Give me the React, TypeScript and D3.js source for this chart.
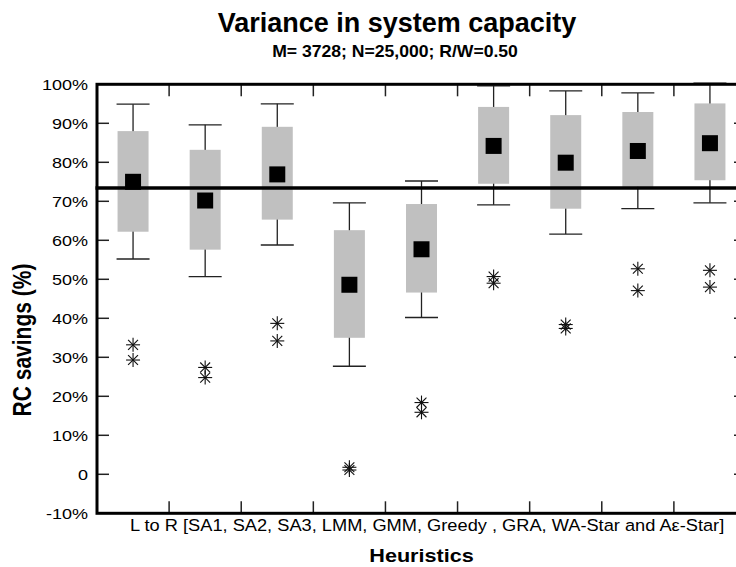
import React from "react";
import * as d3 from "d3";

// Heuristics, left to right
const categories = ["SA1", "SA2", "SA3", "LMM", "GMM", "Greedy", "GRA", "WA-Star", "Aε-Star"];

// RC savings (%) per heuristic
const whiskerHigh = [94.9, 89.6, 95.0, 69.6, 75.2, 99.6, 98.3, 97.8, 100.3];
const quartile3 = [88.0, 83.2, 89.1, 62.6, 69.3, 94.2, 92.1, 92.9, 95.1];
const centerValue = [75.0, 70.2, 76.9, 48.6, 57.7, 84.2, 79.9, 82.9, 84.9];
const quartile1 = [62.2, 57.6, 65.3, 35.0, 46.6, 74.5, 68.1, 73.7, 75.4];
const whiskerLow = [55.2, 50.7, 58.8, 27.7, 40.2, 69.1, 61.6, 68.1, 69.6];
const outlierHigh = [33.2, 27.4, 38.7, 1.8, 18.4, 50.7, 38.4, 52.7, 52.3];
const outlierLow = [29.3, 24.8, 34.2, 1.1, 15.9, 49.0, 37.4, 47.1, 48.0];

const referenceLevel = 73.4;

const yTicks = [-10, 0, 10, 20, 30, 40, 50, 60, 70, 80, 90, 100];
const yTickLabel = (v: number) => (v === 0 ? "0" : `${v}%`);

const titleText = "Variance in system capacity";
const subtitleText = "M= 3728; N=25,000; R/W=0.50";
const xCaption = "L to R [SA1, SA2, SA3, LMM, GMM, Greedy , GRA, WA-Star and Aε-Star]";
const xTitle = "Heuristics";
const yTitle = "RC savings (%)";

const W = 736;
const H = 567;
const FONT = "'Liberation Sans', Arial, Helvetica, sans-serif";
const SX = 1.2; // horizontal text stretch

export default function App() {
  const left = 97;
  const right = 746;
  const top = 84.3;
  const bottom = 513.3;

  const x = d3.scaleLinear().domain([0.5, categories.length + 0.5]).range([left, right]);
  const y = d3.scaleLinear().domain([-10, 100]).range([bottom, top]);

  const boxW = 31;
  const capW = 33;
  const sq = 16;
  const tickLen = 12;
  const star = 7;

  const rows = categories.map((c, i) => ({
    name: c,
    pos: i + 1,
    hi: whiskerHigh[i],
    q3: quartile3[i],
    mid: centerValue[i],
    q1: quartile1[i],
    lo: whiskerLow[i],
    outs: [outlierHigh[i], outlierLow[i]],
  }));

  const between = d3.range(1.5, categories.length, 1);

  const asterisk = (cx: number, cy: number, key: string) => {
    const d = star * Math.SQRT1_2;
    return (
      <g key={key} stroke="#111" strokeWidth={1.1}>
        <line x1={cx - star} y1={cy} x2={cx + star} y2={cy} />
        <line x1={cx} y1={cy - star} x2={cx} y2={cy + star} />
        <line x1={cx - d} y1={cy - d} x2={cx + d} y2={cy + d} />
        <line x1={cx - d} y1={cy + d} x2={cx + d} y2={cy - d} />
      </g>
    );
  };

  return (
    <svg
      width={W}
      height={H}
      viewBox={`0 0 ${W} ${H}`}
      style={{ position: "absolute", left: 0, top: 0, background: "#fff" }}
      fontFamily={FONT}
    >
      <rect x={0} y={0} width={W} height={H} fill="#fff" />

      {/* titles */}
      <text
        transform={`translate(397,32) scale(1.0,1)`}
        textAnchor="middle"
        fontSize={27}
        fontWeight="bold"
        fill="#000"
      >
        {titleText}
      </text>
      <text
        transform={`translate(395,57) scale(1.1,1)`}
        textAnchor="middle"
        fontSize={16}
        fontWeight="bold"
        fill="#000"
      >
        {subtitleText}
      </text>

      {/* boxes */}
      {rows.map((r) => {
        const cx = x(r.pos);
        return (
          <g key={r.name}>
            <line x1={cx} x2={cx} y1={y(r.hi)} y2={y(r.lo)} stroke="#222" strokeWidth={1.3} />
            <line x1={cx - capW / 2} x2={cx + capW / 2} y1={y(r.hi)} y2={y(r.hi)} stroke="#222" strokeWidth={1.3} />
            <line x1={cx - capW / 2} x2={cx + capW / 2} y1={y(r.lo)} y2={y(r.lo)} stroke="#222" strokeWidth={1.3} />
            <rect x={cx - boxW / 2} y={y(r.q3)} width={boxW} height={y(r.q1) - y(r.q3)} fill="#c0c0c0" />
            <rect x={cx - sq / 2} y={y(r.mid) - sq / 2} width={sq} height={sq} fill="#000" />
            {r.outs.map((o, k) => asterisk(cx, y(o), `${r.name}-o${k}`))}
          </g>
        );
      })}

      {/* reference level */}
      <line x1={left - 1.5} x2={right} y1={y(referenceLevel)} y2={y(referenceLevel)} stroke="#000" strokeWidth={3.5} />

      {/* inner ticks */}
      {yTicks
        .filter((t) => t > -10 && t < 100)
        .map((t) => (
          <g key={`yt${t}`} stroke="#222" strokeWidth={1.5}>
            <line x1={left} x2={left + tickLen} y1={y(t)} y2={y(t)} />
            <line x1={right} x2={right - tickLen} y1={y(t)} y2={y(t)} />
          </g>
        ))}
      {between.map((b) => (
        <g key={`xt${b}`} stroke="#222" strokeWidth={1.5}>
          <line x1={x(b)} x2={x(b)} y1={top} y2={top + tickLen} />
          <line x1={x(b)} x2={x(b)} y1={bottom} y2={bottom - tickLen} />
        </g>
      ))}

      {/* frame */}
      <rect x={left} y={top} width={right - left} height={bottom - top} fill="none" stroke="#000" strokeWidth={3} />

      {/* y tick labels */}
      {yTicks.map((t) => (
        <text
          key={`yl${t}`}
          transform={`translate(88,${y(t) + 5.5}) scale(${SX},1)`}
          textAnchor="end"
          fontSize={15}
          fill="#000"
        >
          {yTickLabel(t)}
        </text>
      ))}

      {/* axis titles */}
      <text
        transform={`translate(31,340) rotate(-90) scale(1,${SX})`}
        textAnchor="middle"
        fontSize={21}
        fontWeight="bold"
        fill="#000"
      >
        {yTitle}
      </text>
      <text
        transform={`translate(130,531) scale(1.106,1)`}
        textAnchor="start"
        fontSize={16.5}
        fill="#000"
      >
        {xCaption}
      </text>
      <text
        transform={`translate(${(left + right) / 2},562) scale(${SX},1)`}
        textAnchor="middle"
        fontSize={18}
        fontWeight="bold"
        fill="#000"
      >
        {xTitle}
      </text>
    </svg>
  );
}
